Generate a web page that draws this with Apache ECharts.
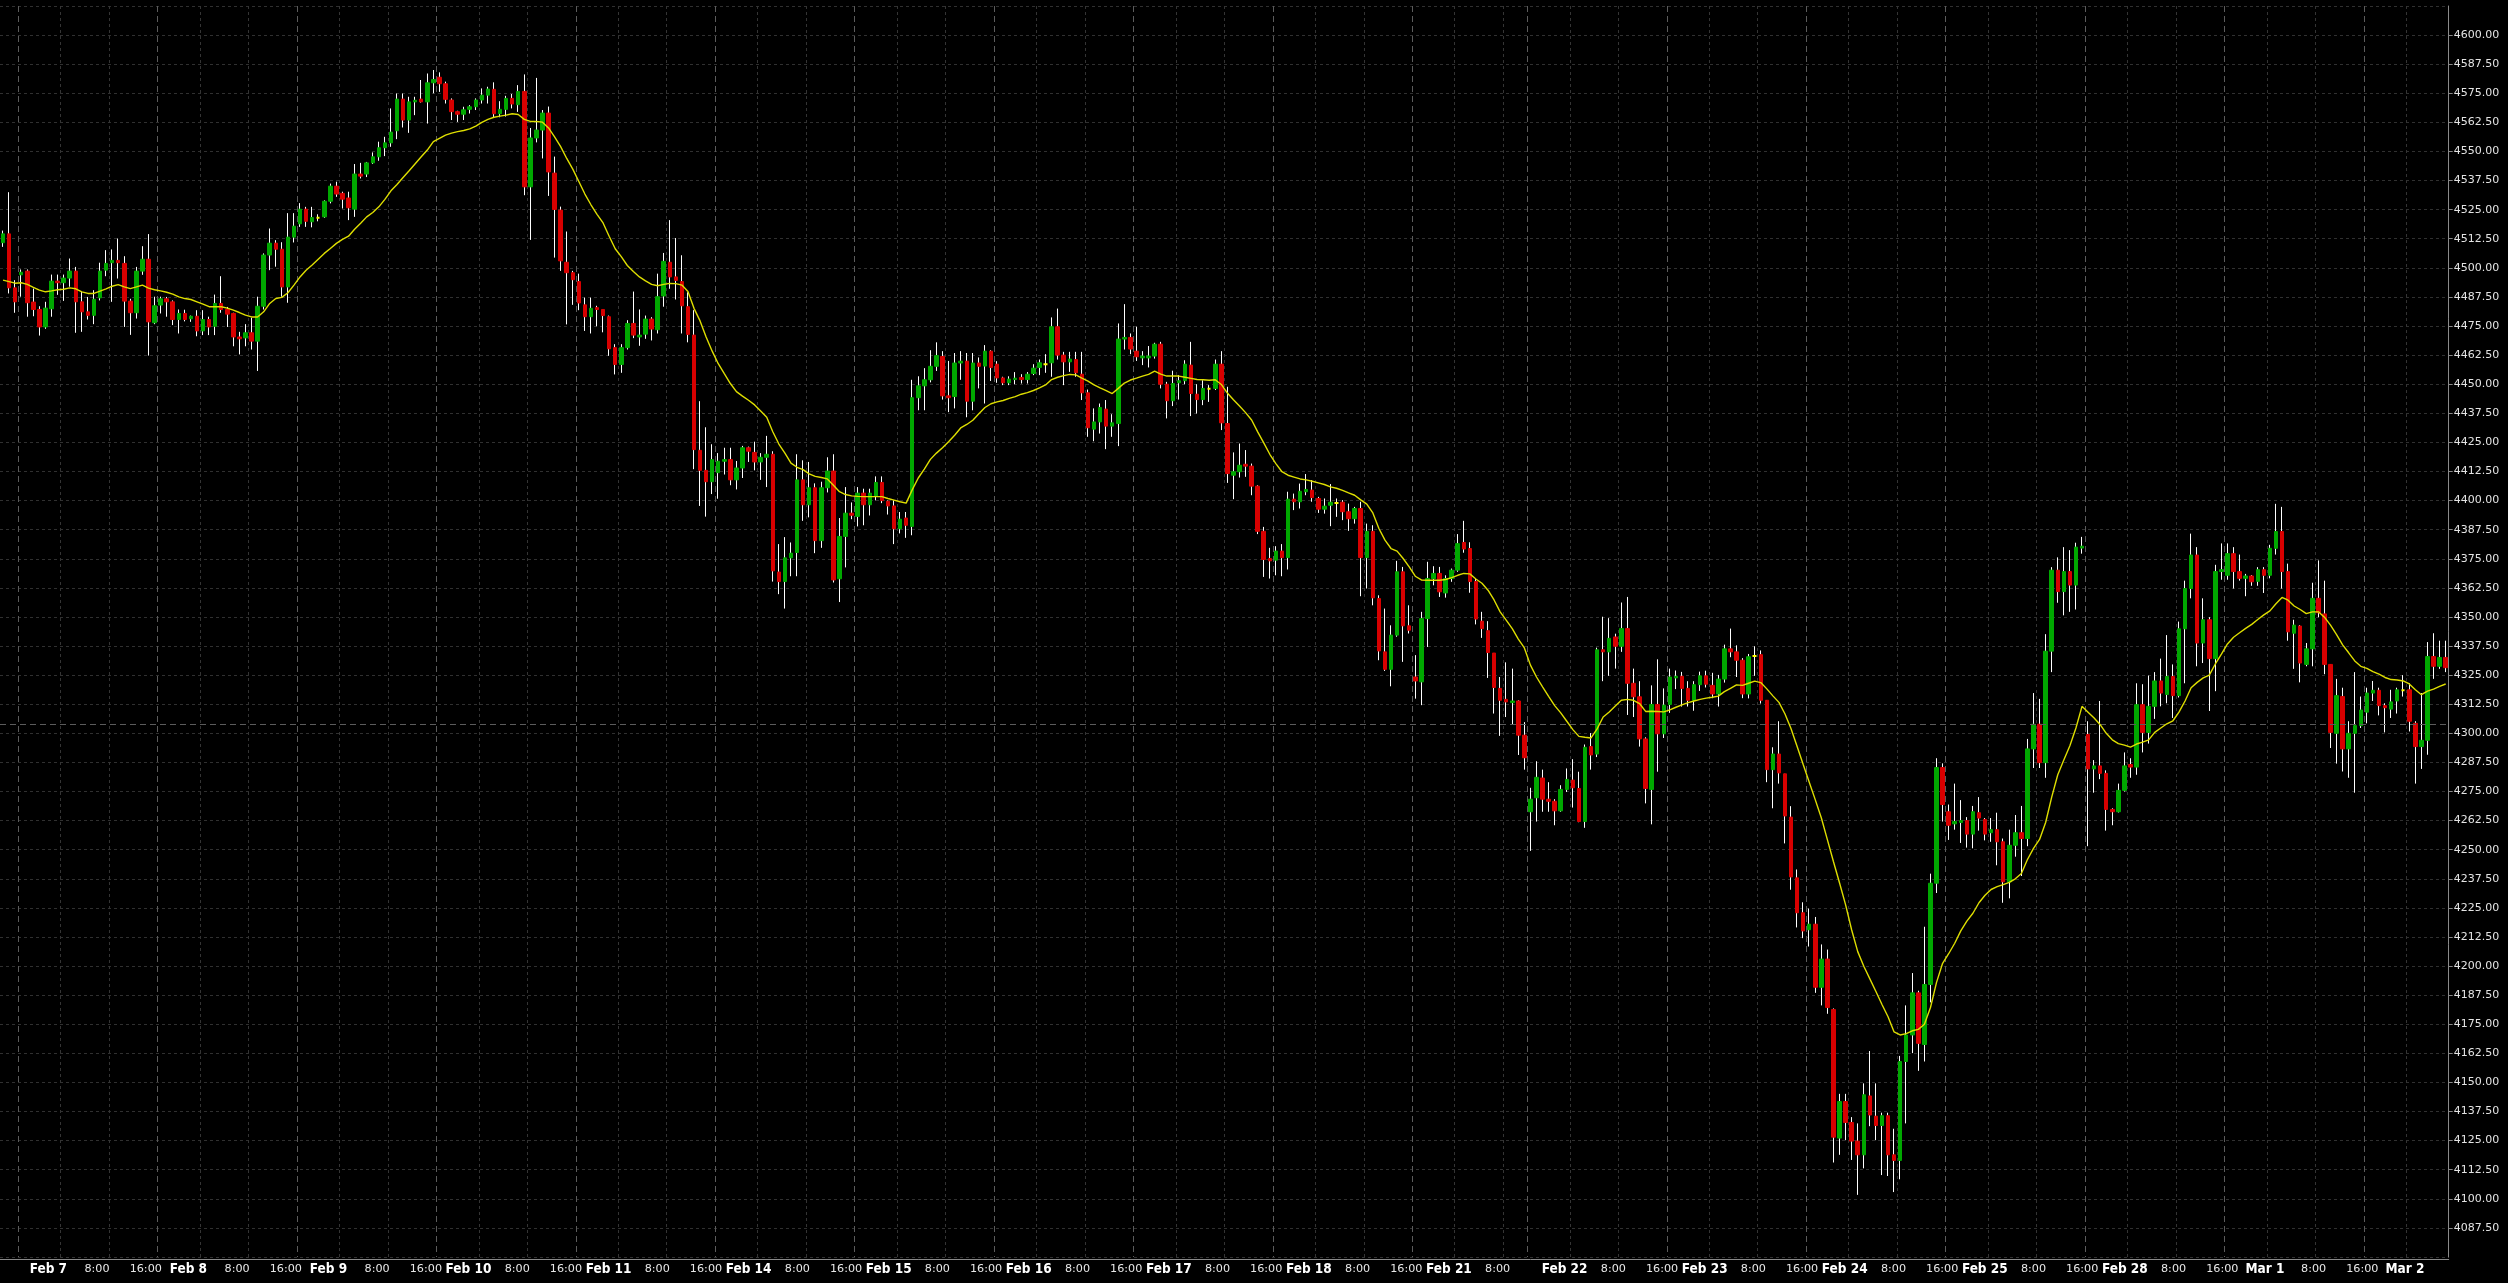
<!DOCTYPE html>
<html><head><meta charset="utf-8">
<style>html,body{margin:0;padding:0;background:#000;}#c{width:2508px;height:1283px;}</style>
<script src="https://cdn.jsdelivr.net/npm/echarts@6/dist/echarts.min.js"></script>
</head><body><div id="c"></div>
<script>
// ---- sessions (hourly bars, labelled by bar end hour) ----
const sessionDates     = ['Feb 4','Feb 7','Feb 8','Feb 9','Feb 10','Feb 11','Feb 14','Feb 15','Feb 16','Feb 17','Feb 18','Feb 21','Feb 22','Feb 23','Feb 24','Feb 25','Feb 28','Mar 1','Mar 2'];
const sessionStartHour = [14,18,18,18,18,18,18,18,18,18,18,18,18,18,18,18,18,18,18];
const sessionEndHour   = [16,16,16,16,16,16,16,16,16,16,16,12,16,16,16,16,16,16,7];
const labelHours = [0, 8, 16];
const refLevel = [4303.75];
const yMin = 4075, yMax = 4612.5, yStep = 12.5;

// ---- candles: [open, close, low, high] ----
const candles = [
[4510.8,4514.6,4509.0,4516.0],[4514.6,4491.4,4489.0,4532.5],[4491.4,4485.4,4480.7,4494.7],[4497.0,4498.1,4487.6,4499.3],[4498.6,4485.0,4479.0,4499.3],
[4485.3,4482.1,4479.2,4491.1],[4482.1,4474.6,4470.9,4483.5],[4474.6,4482.7,4473.8,4485.4],[4482.4,4494.3,4479.0,4497.1],[4494.3,4493.6,4488.4,4497.1],
[4493.6,4495.6,4485.8,4497.1],[4495.6,4498.6,4491.9,4504.0],[4498.6,4485.4,4472.1,4500.4],[4485.4,4481.1,4472.5,4490.0],[4481.1,4479.6,4477.8,4487.5],
[4479.6,4486.5,4475.8,4490.4],[4487.1,4498.6,4486.0,4502.2],[4499.0,4501.9,4496.4,4507.6],[4502.2,4503.2,4485.4,4507.9],[4503.2,4502.2,4495.4,4512.6],
[4501.9,4485.7,4474.6,4505.0],[4485.7,4480.7,4471.2,4486.7],[4480.7,4498.6,4478.2,4500.4],[4498.6,4503.7,4497.0,4509.3],[4503.7,4476.8,4462.3,4514.5],
[4476.4,4483.7,4475.8,4487.6],[4484.0,4486.7,4480.4,4487.6],[4486.7,4485.4,4479.0,4487.5],[4485.4,4477.8,4475.4,4486.0],[4477.8,4480.4,4471.8,4482.1],
[4480.4,4477.8,4477.0,4482.0],[4478.1,4479.2,4476.8,4479.5],[4479.2,4472.9,4470.6,4481.8],[4472.9,4477.8,4471.1,4481.8],[4477.8,4474.6,4471.1,4479.0],
[4474.9,4484.7,4471.1,4488.5],[4484.7,4482.1,4480.7,4496.4],[4482.1,4480.1,4474.6,4483.2],[4480.4,4470.3,4466.3,4480.7],[4470.3,4469.5,4462.8,4472.5],
[4469.9,4472.1,4466.3,4475.8],[4472.1,4468.5,4464.9,4478.6],[4468.5,4483.5,4455.7,4487.6],[4483.5,4505.5,4482.1,4506.2],[4505.5,4510.6,4499.0,4516.9],
[4510.6,4508.0,4500.5,4511.9],[4508.0,4491.8,4487.6,4511.0],[4491.8,4513.2,4485.0,4523.5],[4513.2,4517.9,4510.9,4523.5],[4518.9,4525.2,4517.6,4527.8],
[4525.2,4520.0,4517.6,4526.2],[4519.8,4521.6,4517.4,4526.2],[4521.5,4521.5,4520.0,4523.0],[4521.9,4528.6,4521.5,4529.0],[4528.6,4535.1,4527.7,4536.2],
[4535.1,4531.7,4530.5,4537.0],[4532.0,4529.5,4525.5,4532.7],[4530.0,4525.8,4520.5,4532.7],[4525.2,4540.3,4521.9,4544.6],[4540.3,4539.4,4538.4,4545.1],
[4540.3,4545.1,4539.0,4545.5],[4545.1,4547.7,4544.6,4549.6],[4547.7,4551.6,4546.0,4554.2],[4551.6,4553.7,4548.0,4556.3],[4553.7,4558.3,4552.0,4568.5],
[4558.9,4572.5,4555.3,4574.9],[4572.5,4563.5,4560.3,4574.9],[4563.5,4571.3,4558.0,4573.5],[4571.3,4572.0,4565.6,4573.5],[4572.5,4571.3,4571.0,4580.7],
[4571.3,4579.5,4562.0,4583.5],[4579.5,4580.9,4575.0,4585.0],[4581.9,4579.1,4575.6,4584.0],[4579.1,4572.4,4570.6,4580.0],[4572.1,4567.1,4563.5,4572.8],
[4567.1,4566.0,4562.7,4567.5],[4566.0,4567.9,4563.5,4569.2],[4568.1,4569.2,4566.3,4569.9],[4569.2,4572.1,4567.8,4572.8],[4572.1,4574.2,4570.6,4577.1],
[4574.2,4576.8,4570.6,4577.8],[4576.7,4566.2,4564.7,4579.7],[4566.2,4568.1,4564.7,4571.6],[4568.1,4572.8,4565.0,4573.9],[4572.8,4570.4,4568.5,4574.7],
[4570.1,4575.8,4567.0,4578.5],[4575.8,4534.8,4531.2,4583.1],[4534.8,4555.8,4512.0,4560.1],[4555.8,4559.2,4553.9,4581.6],[4559.2,4566.5,4547.0,4567.8],
[4566.5,4541.2,4530.9,4569.3],[4540.7,4525.1,4504.4,4547.8],[4524.8,4503.0,4498.7,4526.3],[4502.4,4497.9,4475.7,4515.6],[4497.9,4494.9,4484.1,4498.7],
[4494.1,4484.9,4481.8,4497.5],[4484.1,4479.0,4472.9,4487.2],[4479.0,4482.6,4471.8,4487.2],[4482.9,4482.1,4474.9,4483.7],[4482.1,4479.5,4472.3,4482.1],
[4479.0,4465.2,4462.2,4479.5],[4465.7,4458.5,4454.2,4467.2],[4458.5,4465.7,4454.9,4467.2],[4465.7,4476.1,4464.9,4477.5],[4476.1,4471.1,4469.8,4489.8],
[4470.3,4471.1,4466.5,4482.1],[4471.5,4478.0,4469.5,4479.5],[4478.0,4473.7,4468.8,4478.8],[4473.4,4487.6,4471.8,4497.5],[4487.9,4502.8,4483.3,4506.4],
[4502.4,4496.1,4491.0,4520.5],[4496.1,4494.6,4486.4,4512.8],[4494.1,4483.7,4471.8,4505.4],[4483.3,4471.4,4468.0,4489.5],[4471.1,4421.9,4413.5,4481.8],
[4421.6,4413.0,4397.7,4442.7],[4413.0,4408.1,4393.1,4431.5],[4408.1,4417.6,4402.8,4424.2],[4412.0,4416.9,4400.8,4420.4],[4416.9,4417.6,4411.2,4422.7],
[4417.6,4408.9,4406.6,4422.7],[4408.9,4414.0,4404.8,4417.0],[4414.0,4422.7,4409.7,4423.5],[4422.7,4421.2,4416.6,4423.2],[4420.7,4416.6,4413.0,4425.3],
[4416.6,4418.6,4408.9,4420.4],[4418.6,4419.9,4405.8,4427.8],[4419.9,4369.8,4365.2,4421.2],[4369.3,4365.2,4359.8,4381.3],[4365.2,4375.4,4353.6,4384.3],
[4375.4,4377.4,4367.5,4382.0],[4377.7,4408.9,4367.5,4419.9],[4408.9,4398.2,4391.3,4417.3],[4398.2,4405.5,4392.8,4416.6],[4405.5,4382.8,4377.4,4407.4],
[4382.8,4405.5,4379.7,4408.1],[4405.5,4412.7,4403.5,4418.6],[4412.7,4365.9,4364.8,4419.9],[4366.4,4384.6,4356.4,4392.5],[4384.6,4394.6,4371.3,4405.8],
[4394.6,4393.7,4392.0,4399.2],[4393.2,4403.2,4388.9,4405.8],[4403.2,4398.2,4389.4,4405.1],[4398.2,4403.2,4393.6,4405.1],[4402.0,4407.8,4400.1,4410.4],
[4407.8,4400.0,4398.9,4410.4],[4399.7,4397.7,4394.0,4400.1],[4397.7,4387.9,4381.3,4400.1],[4387.9,4392.0,4385.9,4395.1],[4392.5,4389.4,4384.0,4395.1],
[4388.9,4444.2,4385.1,4451.9],[4444.2,4449.3,4438.8,4453.4],[4449.3,4451.9,4438.8,4456.9],[4451.9,4457.7,4450.8,4464.6],[4457.7,4462.3,4455.7,4468.0],
[4461.9,4445.0,4443.4,4464.2],[4445.0,4444.2,4438.0,4460.0],[4444.7,4459.1,4439.6,4463.4],[4459.1,4459.9,4451.9,4464.2],[4459.9,4442.7,4435.8,4463.4],
[4442.7,4459.1,4438.8,4463.4],[4459.1,4457.7,4448.2,4461.5],[4457.8,4464.2,4441.7,4466.8],[4464.2,4457.2,4451.4,4464.6],[4458.6,4452.7,4450.6,4459.9],
[4452.7,4450.6,4449.6,4453.2],[4450.6,4452.2,4449.6,4453.4],[4452.0,4452.6,4450.0,4455.2],[4452.9,4452.0,4450.3,4454.3],[4452.0,4454.3,4450.3,4455.2],
[4454.6,4456.9,4453.9,4458.6],[4457.2,4459.2,4453.9,4460.6],[4458.6,4458.6,4454.9,4462.9],[4459.2,4474.7,4453.2,4478.7],[4474.7,4462.5,4460.6,4482.5],
[4462.5,4459.6,4449.6,4463.9],[4459.6,4460.8,4455.3,4463.9],[4460.6,4454.9,4453.2,4463.9],[4454.3,4446.3,4443.2,4463.9],[4446.3,4431.3,4427.4,4447.7],
[4430.7,4433.8,4425.5,4439.6],[4433.8,4440.0,4428.8,4441.7],[4439.3,4432.0,4422.1,4443.2],[4432.0,4433.4,4427.4,4437.1],[4433.1,4469.4,4423.4,4476.1],
[4469.4,4470.1,4464.9,4484.4],[4470.1,4465.1,4462.9,4471.8],[4464.2,4461.8,4460.0,4474.7],[4461.3,4462.1,4458.2,4464.2],[4461.3,4462.1,4457.2,4466.4],
[4462.1,4467.2,4461.0,4467.8],[4467.2,4450.0,4448.2,4468.2],[4450.0,4442.9,4435.3,4451.0],[4442.9,4450.3,4440.6,4455.8],[4450.6,4451.5,4443.4,4453.9],
[4451.5,4458.6,4450.0,4460.3],[4458.2,4446.0,4436.3,4468.2],[4445.7,4443.4,4437.4,4450.0],[4443.4,4448.2,4441.0,4451.7],[4448.0,4448.0,4442.4,4449.6],
[4448.2,4458.6,4447.5,4460.6],[4458.6,4433.4,4430.3,4464.2],[4433.1,4411.6,4407.6,4448.9],[4410.9,4412.4,4400.6,4420.7],[4412.4,4415.2,4409.9,4424.5],
[4415.6,4414.8,4410.2,4421.7],[4414.8,4406.2,4402.3,4415.9],[4406.2,4386.8,4385.6,4406.6],[4386.8,4374.7,4367.2,4388.7],[4375.1,4374.1,4366.5,4379.7],
[4374.4,4378.3,4367.9,4380.4],[4378.3,4375.5,4367.5,4381.3],[4375.5,4400.6,4370.4,4403.8],[4400.6,4399.5,4395.9,4403.0],[4399.5,4404.0,4396.6,4407.3],
[4403.8,4404.8,4402.3,4411.4],[4404.5,4401.3,4399.5,4408.8],[4400.9,4396.3,4394.7,4401.6],[4396.3,4397.6,4394.4,4400.9],[4398.0,4399.3,4389.0,4407.1],
[4399.0,4399.0,4393.0,4400.9],[4399.3,4395.2,4391.6,4400.2],[4395.2,4392.2,4387.0,4398.7],[4392.2,4396.6,4390.1,4397.3],[4396.6,4375.5,4358.9,4399.5],
[4375.5,4386.8,4362.2,4390.1],[4386.8,4358.2,4355.0,4389.4],[4357.9,4335.4,4331.4,4359.3],[4335.0,4327.5,4326.8,4353.6],[4327.5,4342.2,4320.2,4346.4],
[4342.2,4369.4,4341.5,4374.1],[4369.4,4346.2,4330.7,4371.5],[4346.2,4344.3,4342.9,4355.0],[4324.2,4322.5,4314.9,4333.6],[4322.1,4349.3,4312.1,4352.2],
[4349.3,4366.5,4337.1,4373.7],[4366.5,4368.7,4363.6,4371.8],[4368.7,4360.8,4358.6,4371.5],[4360.3,4366.5,4358.3,4367.9],[4366.5,4370.1,4365.1,4370.8],
[4370.1,4381.5,4369.4,4385.6],[4382.0,4379.2,4377.6,4391.3],[4379.4,4365.2,4360.4,4382.1],[4365.2,4349.1,4346.8,4366.3],[4348.2,4345.0,4341.0,4352.2],
[4344.1,4334.7,4323.8,4348.2],[4334.5,4319.7,4308.5,4334.5],[4319.3,4314.2,4298.9,4324.2],[4314.6,4313.5,4307.0,4330.5],[4313.2,4313.9,4303.7,4327.8],
[4313.9,4299.2,4290.7,4314.2],[4299.2,4289.5,4284.4,4304.8],[4266.3,4271.7,4249.5,4276.6],[4272.3,4281.1,4262.1,4288.0],[4280.8,4271.7,4266.3,4284.4],
[4271.7,4270.8,4266.3,4279.0],[4270.8,4266.7,4260.5,4271.7],[4266.7,4275.9,4266.3,4277.7],[4275.9,4280.2,4274.8,4284.9],[4279.9,4276.6,4268.1,4288.9],
[4276.3,4262.1,4261.8,4283.5],[4262.1,4294.0,4259.4,4295.2],[4294.3,4290.7,4284.4,4300.1],[4291.1,4335.9,4289.8,4336.8],[4335.9,4335.0,4322.4,4350.1],
[4335.0,4340.8,4324.7,4349.5],[4341.4,4337.4,4327.8,4342.8],[4337.4,4345.0,4335.0,4356.2],[4345.0,4321.5,4307.9,4358.6],[4321.5,4315.7,4307.0,4327.8],
[4315.7,4297.6,4294.3,4322.4],[4297.6,4276.3,4269.9,4298.3],[4275.9,4312.4,4260.9,4320.6],[4312.4,4299.8,4283.5,4331.8],[4299.8,4312.1,4298.0,4319.3],
[4312.4,4324.2,4308.8,4327.8],[4323.8,4324.5,4319.0,4327.0],[4324.5,4319.3,4311.5,4326.4],[4319.3,4314.2,4311.5,4322.4],[4314.2,4320.9,4309.7,4322.4],
[4320.9,4324.7,4318.2,4326.5],[4324.7,4321.1,4319.7,4326.9],[4320.6,4316.9,4315.1,4326.0],[4316.9,4323.3,4311.5,4325.1],[4323.3,4336.3,4321.8,4338.1],
[4336.3,4335.0,4332.7,4345.0],[4335.0,4331.4,4324.2,4337.8],[4331.4,4316.9,4315.1,4332.3],[4316.9,4332.9,4315.0,4334.1],[4333.2,4333.2,4324.7,4337.4],
[4333.8,4314.2,4312.8,4335.6],[4314.2,4284.4,4279.0,4314.2],[4284.4,4291.1,4267.8,4294.0],[4291.1,4283.0,4278.4,4305.2],[4282.6,4264.5,4252.7,4282.6],
[4264.0,4238.3,4232.8,4268.7],[4237.9,4222.9,4216.6,4241.5],[4222.9,4215.1,4212.0,4227.4],[4215.6,4218.0,4208.4,4224.7],[4218.0,4190.9,4188.5,4221.1],
[4190.9,4203.0,4183.1,4209.3],[4203.0,4182.2,4179.5,4207.1],[4181.3,4126.5,4115.6,4181.8],[4126.1,4141.8,4118.9,4145.1],[4141.8,4132.8,4125.2,4145.1],
[4132.8,4124.8,4116.7,4135.1],[4124.8,4118.9,4101.7,4132.4],[4118.9,4144.7,4113.1,4149.6],[4144.2,4136.0,4131.2,4163.5],[4135.5,4131.5,4125.2,4149.6],
[4131.5,4135.7,4110.2,4137.0],[4135.7,4118.9,4109.8,4137.0],[4118.9,4116.5,4102.9,4130.1],[4116.5,4159.0,4108.4,4161.4],[4159.0,4170.4,4132.4,4183.1],
[4170.4,4188.5,4162.6,4197.0],[4188.5,4166.8,4155.0,4189.4],[4166.3,4192.1,4159.0,4216.9],[4192.1,4235.6,4184.4,4239.7],[4235.6,4285.3,4231.4,4289.3],
[4285.3,4269.4,4262.1,4287.1],[4266.3,4260.5,4254.2,4269.4],[4261.1,4262.1,4258.6,4278.4],[4261.7,4262.5,4252.9,4271.3],[4262.5,4256.7,4250.9,4264.0],
[4256.7,4266.3,4250.6,4268.8],[4265.9,4263.6,4258.2,4272.6],[4263.0,4256.7,4254.0,4263.6],[4257.3,4258.6,4253.4,4263.6],[4258.6,4253.4,4243.3,4265.9],
[4253.4,4236.2,4227.2,4254.8],[4236.2,4251.9,4229.1,4258.6],[4251.9,4257.3,4247.0,4264.9],[4257.3,4254.8,4238.7,4268.8],[4254.8,4293.3,4251.5,4297.6],
[4293.3,4303.9,4285.1,4317.3],[4303.9,4287.4,4285.1,4314.8],[4287.4,4335.3,4280.9,4342.6],[4335.3,4370.1,4326.3,4371.4],[4370.1,4360.9,4356.1,4375.6],
[4360.9,4369.5,4350.7,4380.0],[4369.5,4363.7,4352.2,4378.7],[4363.7,4380.0,4353.2,4381.9],[4379.6,4380.4,4377.2,4384.4],[4299.5,4284.7,4251.5,4305.2],
[4284.7,4286.0,4274.5,4288.5],[4286.0,4282.8,4280.3,4313.9],[4282.8,4267.3,4258.2,4284.1],[4267.3,4266.3,4260.5,4267.8],[4266.3,4275.5,4266.0,4278.4],
[4275.5,4286.0,4275.0,4291.8],[4286.6,4285.5,4280.9,4289.3],[4285.5,4312.3,4282.2,4321.5],[4312.3,4300.4,4291.8,4321.1],[4300.4,4311.6,4295.6,4324.8],
[4311.6,4322.5,4306.2,4326.3],[4322.5,4317.3,4311.6,4332.1],[4316.7,4324.4,4312.9,4342.2],[4324.4,4316.2,4306.6,4329.6],[4316.2,4344.9,4315.4,4348.0],
[4344.9,4362.2,4321.5,4365.6],[4362.2,4376.6,4358.0,4385.8],[4376.6,4338.8,4328.8,4380.0],[4338.8,4348.8,4330.2,4358.0],[4348.8,4332.1,4309.6,4349.9],
[4332.1,4369.5,4318.1,4372.4],[4369.5,4370.3,4366.0,4381.6],[4367.9,4377.2,4366.0,4381.6],[4377.2,4369.5,4362.2,4380.0],[4369.5,4366.6,4365.6,4376.8],
[4366.6,4367.6,4358.9,4368.5],[4367.6,4365.1,4363.4,4368.0],[4365.3,4370.3,4363.4,4371.4],[4370.3,4367.9,4360.3,4371.4],[4367.9,4379.5,4366.6,4381.0],
[4379.5,4386.7,4376.8,4398.6],[4386.7,4369.5,4362.2,4397.3],[4369.5,4343.6,4339.8,4372.9],[4343.0,4346.5,4327.7,4348.8],[4346.1,4330.2,4321.9,4346.5],
[4329.6,4336.3,4328.8,4338.8],[4336.3,4358.0,4328.8,4364.7],[4358.0,4351.8,4349.9,4374.3],[4351.3,4329.6,4325.4,4365.6],[4329.6,4300.4,4293.7,4329.6],
[4300.0,4316.2,4287.0,4323.4],[4315.8,4293.3,4283.6,4319.6],[4293.3,4300.0,4280.9,4305.2],[4300.0,4303.3,4274.5,4326.3],[4303.3,4310.0,4302.3,4315.8],
[4309.1,4317.3,4304.3,4319.6],[4317.3,4318.5,4313.9,4322.5],[4318.5,4311.9,4307.7,4319.6],[4311.9,4311.0,4300.4,4312.9],[4310.4,4313.5,4306.6,4318.7],
[4313.9,4318.7,4308.5,4319.6],[4318.5,4318.5,4315.8,4325.0],[4318.7,4305.2,4300.8,4321.5],[4304.3,4294.3,4278.4,4305.2],[4294.3,4297.0,4284.7,4317.3],
[4297.0,4333.0,4290.8,4339.2],[4333.0,4328.8,4323.4,4343.0],[4328.8,4332.6,4327.7,4339.8],[4332.6,4328.2,4326.3,4339.8]
];

// ---- moving average line, read per bar ----
const ma = [
4494.7,4494.1,4493.4,4493.6,4492.9,4491.6,4490.4,4489.7,4490.1,4490.6,
4490.8,4491.4,4491.0,4489.7,4489.0,4489.0,4490.0,4491.0,4492.1,4492.8,
4491.8,4491.1,4491.8,4492.6,4491.3,4490.6,4490.1,4489.5,4488.7,4487.5,
4486.8,4486.4,4485.4,4484.4,4483.3,4483.3,4483.3,4482.7,4481.8,4480.8,
4479.7,4478.9,4478.9,4481.1,4484.7,4486.8,4487.3,4489.3,4492.6,4496.1,
4499.0,4501.2,4503.7,4506.2,4508.3,4510.5,4512.2,4513.6,4516.6,4519.2,
4521.9,4523.8,4526.2,4529.4,4533.1,4535.8,4538.8,4541.7,4544.7,4547.7,
4550.6,4554.2,4555.6,4557.0,4557.9,4558.5,4559.0,4559.7,4560.9,4562.5,
4563.8,4564.7,4565.2,4565.6,4566.2,4565.9,4563.8,4562.9,4562.9,4562.6,
4560.1,4556.3,4552.1,4547.0,4542.4,4537.1,4531.7,4527.1,4523.0,4519.3,
4513.6,4508.2,4504.8,4501.0,4498.4,4496.1,4494.4,4492.9,4492.3,4492.9,
4493.3,4493.2,4492.6,4489.8,4482.6,4477.2,4470.3,4464.2,4458.8,4454.5,
4450.3,4446.8,4444.9,4443.1,4441.1,4438.5,4435.8,4429.6,4424.3,4420.4,
4416.1,4414.3,4413.3,4411.5,4410.4,4409.9,4409.3,4406.6,4403.8,4402.6,
4402.0,4401.8,4401.7,4401.7,4401.7,4401.7,4400.9,4400.2,4399.5,4398.9,
4404.6,4409.7,4413.5,4417.7,4420.4,4422.7,4425.3,4428.1,4431.2,4432.7,
4434.5,4437.3,4440.0,4441.6,4442.4,4443.0,4443.9,4444.7,4445.7,4446.4,
4447.3,4448.4,4449.7,4452.0,4453.0,4453.7,4454.2,4454.0,4452.6,4451.3,
4449.7,4448.4,4447.2,4446.0,4448.2,4450.5,4451.8,4452.6,4453.5,4454.2,
4455.6,4454.3,4453.5,4453.5,4453.5,4453.0,4452.5,4452.0,4451.9,4451.7,
4451.9,4449.9,4446.2,4443.3,4440.6,4437.8,4434.6,4429.5,4424.8,4419.9,
4415.9,4412.4,4410.9,4410.1,4409.3,4408.9,4408.3,4407.6,4406.9,4405.9,
4405.3,4404.4,4403.3,4402.3,4400.3,4398.5,4394.7,4388.0,4383.0,4379.4,
4378.3,4375.1,4371.5,4367.5,4365.9,4365.8,4365.8,4365.8,4366.1,4366.9,
4367.9,4368.7,4368.5,4366.3,4364.5,4361.5,4357.3,4352.2,4348.6,4345.0,
4340.5,4336.7,4329.3,4324.2,4320.0,4315.9,4311.9,4308.8,4305.2,4301.6,
4298.7,4298.3,4298.0,4301.9,4307.0,4309.2,4311.7,4314.2,4314.6,4314.2,
4312.8,4309.4,4309.5,4309.4,4309.2,4310.1,4311.2,4312.2,4313.2,4313.9,
4314.6,4315.1,4315.5,4316.0,4317.9,4319.3,4320.8,4320.6,4321.5,4322.4,
4321.8,4319.1,4316.1,4313.3,4308.3,4302.0,4294.3,4286.6,4279.0,4271.4,
4263.6,4254.2,4244.8,4235.7,4226.3,4215.5,4206.2,4199.9,4194.5,4189.1,
4183.5,4178.2,4171.7,4170.4,4171.0,4172.2,4172.8,4175.0,4182.2,4193.0,
4201.2,4205.3,4209.8,4215.1,4219.3,4222.7,4227.2,4230.4,4232.9,4234.1,
4235.0,4236.0,4237.5,4239.8,4245.8,4250.6,4254.4,4261.7,4272.6,4282.2,
4288.5,4294.7,4302.3,4311.6,4309.1,4306.6,4303.7,4300.0,4297.2,4295.6,
4294.9,4294.1,4295.4,4296.2,4297.2,4300.4,4302.3,4304.1,4305.4,4309.1,
4313.9,4319.6,4321.9,4323.8,4325.0,4329.8,4334.0,4338.4,4341.3,4343.2,
4345.1,4346.8,4348.9,4350.9,4352.6,4355.7,4358.4,4357.2,4354.7,4353.2,
4351.4,4352.2,4352.2,4349.9,4346.5,4342.4,4338.0,4334.6,4331.1,4328.8,
4327.9,4326.5,4325.4,4324.0,4323.1,4322.9,4322.5,4321.2,4318.7,4316.6,
4318.1,4319.0,4320.2,4321.2
];

// ---- build categories from sessions ----
const cats = [], hours = [], dates = [], sessionLast = [];
sessionDates.forEach((d, si) => {
  let h = sessionStartHour[si];
  const end = sessionEndHour[si];
  for (;;) {
    cats.push(d + ' ' + h + ':00'); hours.push(h); dates.push(d); sessionLast.push(false);
    if (h === end) break;
    h = (h + 1) % 24;
  }
  if (si < sessionDates.length - 1) sessionLast[sessionLast.length - 1] = true;
});
if (cats.length !== candles.length || ma.length !== candles.length) {
  console.error('length mismatch', cats.length, candles.length, ma.length);
}

const bodies = candles.map(c => {
  const item = { value: [c[0], c[1], Math.min(c[0], c[1]), Math.max(c[0], c[1])] };
  if (c[0] === c[1]) item.itemStyle = { borderWidth: 2 };
  return item;
});

// layout of the plot (px)
const GRID_LEFT = -2.4, GRID_RIGHT = 59.3, W = 2508;
const band = (W - GRID_LEFT - GRID_RIGHT) / cats.length;

// Each time label (0:00 -> date, 8:00, 16:00) is drawn a little left of the
// grid line that follows its bar; attach it to the nearest bar and nudge it.
const labelAt = {};   // host bar index -> { src: labelled bar index, pad }
cats.forEach((c, k) => {
  if (k <= 4 || labelHours.indexOf(hours[k]) < 0) return;
  const g = GRID_LEFT + (k + 1) * band;
  const want = 1.00468 * g - 12.57;
  const j = Math.round((want - GRID_LEFT) / band - 0.5);
  const shift = want - (GRID_LEFT + (j + 0.5) * band);
  labelAt[j] = { src: k, pad: shift < 0 ? [0, -2 * shift, 0, 0] : [0, 0, 0, 2 * shift] };
});
const rich = {};
Object.keys(labelAt).forEach(j => {
  const L = labelAt[j];
  rich['d' + j] = { fontFamily: 'DejaVu Sans Condensed', fontWeight: 'bold', fontSize: 13.5, color: '#ffffff', padding: L.pad, lineHeight: 15 };
  rich['t' + j] = { fontFamily: 'DejaVu Sans', fontSize: 11.2, color: '#e8e8e8', padding: L.pad, lineHeight: 15 };
});
const labelText = j => {
  const k = labelAt[j].src;
  return hours[k] === 0 ? '{d' + j + '|' + dates[k] + '}' : '{t' + j + '|' + hours[k] + ':00}';
};

const chart = echarts.init(document.getElementById('c'), null, { renderer: 'canvas' });
chart.setOption({
  backgroundColor: '#000000',
  animation: false,
  grid: { left: GRID_LEFT, right: GRID_RIGHT, top: 6, bottom: 26, containLabel: false },
  xAxis: [
    {
      type: 'category', data: cats, boundaryGap: true, offset: 2,
      axisLine: { show: true, onZero: false, lineStyle: { color: '#8a8a8a', width: 1 } },
      axisTick: { show: false },
      axisLabel: {
        interval: (i) => labelAt[i] !== undefined,
        margin: 3, showMinLabel: true, showMaxLabel: true, hideOverlap: false,
        formatter: (v, i) => labelAt[i] ? labelText(i) : '',
        rich: rich
      },
      splitLine: {
        show: true,
        interval: (i) => i > 0 && (hours[i - 1] === 0 || hours[i - 1] === 8),
        lineStyle: { color: '#343434', width: 1, type: [3, 3] }
      }
    },
    {
      type: 'category', data: cats, boundaryGap: true, gridIndex: 0, position: 'bottom',
      axisLine: { show: false }, axisTick: { show: false }, axisLabel: { show: false },
      splitLine: {
        show: true,
        interval: (i) => i > 0 && sessionLast[i - 1],
        lineStyle: { color: '#5c5c5c', width: 1, type: [6, 4] }
      }
    }
  ],
  yAxis: {
    type: 'value', position: 'right', min: yMin, max: yMax, interval: yStep,
    axisLine: { show: true, lineStyle: { color: '#8a8a8a', width: 1 } },
    axisTick: { show: true, length: 4, lineStyle: { color: '#8a8a8a' } },
    axisLabel: {
      margin: 5, color: '#e4e4e4', fontFamily: 'DejaVu Sans', fontSize: 11,
      showMinLabel: false, showMaxLabel: false,
      formatter: v => v.toFixed(2)
    },
    splitLine: { show: true, lineStyle: { color: '#303030', width: 1, type: [3, 3] } }
  },
  series: [
    {
      name: 'wick', type: 'candlestick', data: candles, barWidth: 1, silent: true,
      itemStyle: { color: '#ffffff', color0: '#ffffff', borderColor: '#ffffff', borderColor0: '#ffffff', borderColorDoji: '#ffffff', borderWidth: 1 }
    },
    {
      name: 'body', type: 'candlestick', data: bodies, barWidth: 4, silent: true,
      itemStyle: { color: '#00a800', color0: '#d80000', borderColor: '#00a800', borderColor0: '#d80000', borderColorDoji: '#ffff00', borderWidth: 1 }
    },
    {
      name: 'MA', type: 'line', data: ma, showSymbol: false, silent: true, z: 5,
      lineStyle: { color: '#dede00', width: 1.4 },
      markLine: {
        silent: true, symbol: ['none', 'none'], label: { show: false },
        lineStyle: { color: '#5c5c5c', width: 1, type: [6, 4] },
        data: refLevel.map(v => ({ yAxis: v }))
      }
    }
  ]
});
</script>
</body></html>
